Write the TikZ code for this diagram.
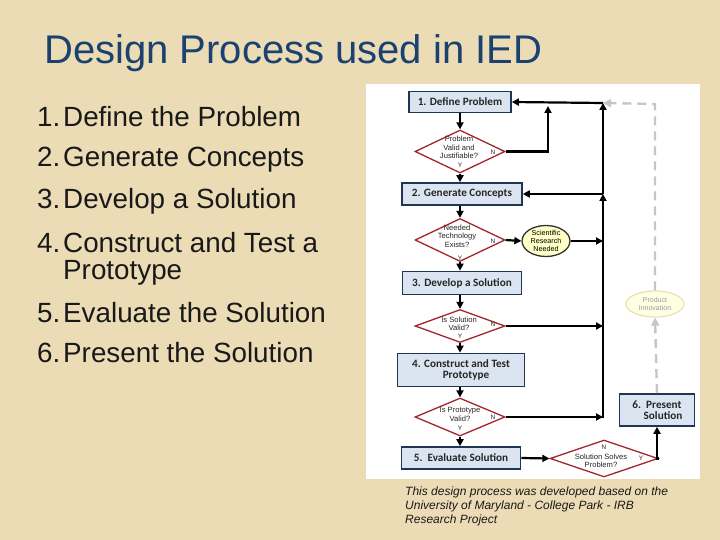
\documentclass[tikz,border=0pt]{standalone}
\usepackage{fontspec}
\setmainfont{Liberation Sans}
\newfontfamily\calib{Carlito}
\usetikzlibrary{shapes.geometric,arrows.meta}
\definecolor{bg}{HTML}{EBDCB6}
\definecolor{titleblue}{HTML}{1A4170}
\definecolor{boxfill}{HTML}{DBE5F1}
\definecolor{boxline}{HTML}{1F3556}
\definecolor{diared}{HTML}{A3262C}
\definecolor{srfill}{HTML}{FFFFC6}
\definecolor{pifill}{HTML}{FFFFE6}
\definecolor{piline}{HTML}{E4E4B0}
\definecolor{dashgray}{HTML}{C6C6C6}
\begin{document}
\begin{tikzpicture}[x=1pt,y=-1pt,
  stepbox/.style={draw=boxline, fill=boxfill, line width=1.6pt, inner sep=1pt, align=center,
     font=\calib\bfseries\fontsize{11.2}{12}\selectfont, text=black!85},
  dia/.style={diamond, draw=diared, fill=white, line width=1.3pt, inner sep=0pt},
  diatext/.style={align=center, font=\fontsize{7.6}{8.4}\selectfont, text=black!85, inner sep=0pt},
  yn/.style={font=\fontsize{6.5}{7}\selectfont, text=black!85, inner sep=0pt},
  conn/.style={line width=2.2pt, black, -{Triangle[length=7pt,width=7pt]}},
  gdash/.style={line width=2.4pt, dashgray, dash pattern=on 9pt off 6pt, -{Triangle[length=8pt,width=8pt]}},
  listtext/.style={anchor=base west, inner sep=0pt, font=\fontsize{27.8}{30}\selectfont, text=black!90},
  foot/.style={anchor=base west, inner sep=0pt, font=\itshape\fontsize{12}{14}\selectfont, text=black!90}
]
\useasboundingbox (0,0) rectangle (720,540);
\fill[bg] (0,0) rectangle (720,540);

% title
\node[anchor=base west, inner sep=0pt, font=\fontsize{40}{44}\selectfont, text=titleblue] (title) at (44,64) {Design Process used in IED};

% list
\node[listtext] (n1) at (37,127) {1.};
\node[listtext] (t1) at (63,127) {Define the Problem};
\node[listtext] (n2) at (37,167) {2.};
\node[listtext] (t2) at (63,167) {Generate Concepts};
\node[listtext] (n3) at (37,208) {3.};
\node[listtext] (t3) at (63,208) {Develop a Solution};
\node[listtext] (n4) at (37,252) {4.};
\node[listtext] (t4) at (63,252) {Construct and Test a};
\node[listtext] (t4b) at (63,279) {Prototype};
\node[listtext] (n5) at (37,322) {5.};
\node[listtext] (t5) at (63,322) {Evaluate the Solution};
\node[listtext] (n6) at (37,362) {6.};
\node[listtext] (t6) at (63,362) {Present the Solution};

% flowchart panel
\fill[white] (366,84) rectangle (700,479);

% boxes
\node[stepbox, minimum width=102pt, minimum height=21pt] (b1) at (460,102) {1. Define Problem};
\node[stepbox, minimum width=120pt, minimum height=22pt] (b2) at (462,194) {2. Generate Concepts};
\node[stepbox, minimum width=119pt, minimum height=23pt] (b3) at (462,283) {3. Develop a Solution};
\node[stepbox, minimum width=127pt, minimum height=33pt] (b4) at (461,370) {4. Construct and Test\\[-1.5pt]\hspace*{10pt}Prototype};
\node[stepbox, minimum width=119pt, minimum height=22pt] (b5) at (461,458) {5.\ \ Evaluate Solution};
\node[stepbox, minimum width=75pt, minimum height=32pt] (b6) at (657,410) {6.\ \ Present\\[-1.5pt]\hspace*{12pt}Solution};

% diamonds
\node[dia, minimum width=90pt, minimum height=43pt] (d1) at (460,151.5) {};
\node[diatext] (d1t) at (459,147.5) {Problem\\Valid and\\Justifiable?};
\node[yn] (d1y) at (460,165.5) {Y};
\node[yn] (d1n) at (493,152) {N};

\node[dia, minimum width=90pt, minimum height=43pt] (d2) at (460,240) {};
\node[diatext] (d2t) at (457,236) {Needed\\Technology\\Exists?};
\node[yn] (d2y) at (460,258) {Y};
\node[yn] (d2n) at (493,241) {N};

\node[dia, minimum width=90pt, minimum height=33pt] (d3) at (460,326) {};
\node[diatext] (d3t) at (459,323.5) {Is Solution\\Valid?};
\node[yn] (d3y) at (460,336) {Y};
\node[yn] (d3n) at (493,324) {N};

\node[dia, minimum width=90pt, minimum height=38pt] (d4) at (460,417) {};
\node[diatext] (d4t) at (460,414.5) {Is Prototype\\Valid?};
\node[yn] (d4y) at (460,428) {Y};
\node[yn] (d4n) at (493,417) {N};

\node[dia, minimum width=108pt, minimum height=37pt] (d5) at (604,458.5) {};
\node[diatext] (d5t) at (601,461) {Solution Solves\\Problem?};
\node[yn] (d5n) at (604,447) {N};
\node[yn] (d5y) at (641,458) {Y};

% ellipses
\node[ellipse, draw=black!80, fill=srfill, line width=1.3pt, minimum width=48pt, minimum height=31pt, inner sep=0pt,
      align=center, font=\fontsize{7.2}{8}\selectfont] (sr) at (546,241) {Scientific\\Research\\Needed};
\node[ellipse, draw=piline, fill=pifill, line width=1.2pt, minimum width=58pt, minimum height=26pt, inner sep=0pt,
      align=center, text=black!40, font=\fontsize{7}{8}\selectfont] (pi) at (655,304) {Product\\Innovation};

% junctions
\coordinate (j1) at (603,103);
\coordinate (j2) at (603,194);
\coordinate (j3) at (603,418);
\coordinate (j4) at (548,106);
\coordinate (jt) at (655,104);

% main flow arrows
\draw[conn] (b1.south) -- (d1.north);
\draw[conn] (d1.south) -- (d1.south |- b2.north);
\draw[conn] (b2.south -| d2.north) -- (d2.north);
\draw[conn] (d2.south) -- (d2.south |- b3.north);
\draw[conn] (b3.south -| d3.north) -- (d3.north);
\draw[conn] (d3.south) -- (d3.south |- b4.north);
\draw[conn] (b4.south -| d4.north) -- (d4.north);
\draw[conn] (d4.south) -- (d4.south |- b5.north);

% feedback loops
\draw[conn] (d1.east) -| (j4);
\draw[conn] (j1) -- (b1.east);
\draw[conn] (j2) -- (j1);
\draw[conn] (j2) -- (b2.east);
\draw[conn] (j3) -- (j2);
\draw[conn] (d2.east) -- (sr.west);
\draw[conn] (sr.east) -- (sr.east -| j1);
\draw[conn] (d3.east) -- (d3.east -| j1);
\draw[conn] (d4.east) -- (d4.east -| j1);
\draw[conn] (b5.east) -- (d5.west);
\draw[conn] (d5.east) -| (b6.south);

% innovation dashed path
\draw[gdash] (b6.north) -- (pi.south);
\draw[gdash] (pi.north) -- (jt) -- (j1);

% footnote
\node[foot] (f1) at (405,495) {This design process was developed based on the};
\node[foot] (f2) at (405,509) {University of Maryland - College Park - IRB};
\node[foot] (f3) at (405,523) {Research Project};
\end{tikzpicture}
\end{document}
